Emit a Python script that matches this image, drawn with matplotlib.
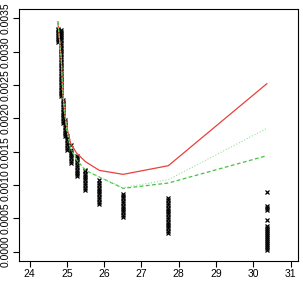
import numpy as np
import matplotlib
matplotlib.use("Agg")
import matplotlib.pyplot as plt

plt.rcParams['font.family'] = ['Liberation Sans', 'DejaVu Sans']

# x positions of the point columns
col_x = [24.76, 24.85, 24.89, 24.94, 25.00, 25.10, 25.26, 25.50, 25.87, 26.51, 27.72, 30.36]
# y values in each column
col_y = [
    [0.00314, 0.00317, 0.00320, 0.00323, 0.00326, 0.00329, 0.00332, 0.00334],
    [0.00233, 0.00236, 0.00240, 0.00243, 0.00247, 0.00250, 0.00254, 0.00257, 0.00261,
     0.00264, 0.00268, 0.00271, 0.00275, 0.00278, 0.00282, 0.00285, 0.00289, 0.00292,
     0.00296, 0.00299, 0.00303, 0.00306, 0.00310, 0.00313, 0.00317, 0.00320, 0.00324,
     0.00327, 0.00330, 0.00333],
    [0.00193, 0.00196, 0.00200, 0.00203, 0.00207, 0.00210, 0.00214, 0.00217, 0.00221,
     0.00224, 0.00228],
    [0.00173, 0.00176, 0.00180, 0.00183, 0.00187, 0.00190, 0.00194, 0.00198],
    [0.00153, 0.00156, 0.00160, 0.00163, 0.00167, 0.00170, 0.00174],
    [0.00133, 0.00136, 0.00140, 0.00143, 0.00147, 0.00150, 0.00153, 0.00160],
    [0.00113, 0.00116, 0.00120, 0.00123, 0.00127, 0.00130, 0.00134, 0.00137, 0.00141,
     0.00143],
    [0.00093, 0.00096, 0.00100, 0.00103, 0.00107, 0.00110, 0.00114, 0.00117, 0.00121,
     0.00123],
    [0.00072, 0.00075, 0.00079, 0.00082, 0.00086, 0.00089, 0.00093, 0.00096, 0.00100,
     0.00103, 0.00107],
    [0.00052, 0.00055, 0.00059, 0.00062, 0.00066, 0.00069, 0.00073, 0.00076, 0.00080,
     0.00083, 0.00086],
    [0.00028, 0.00031, 0.00035, 0.00038, 0.00042, 0.00045, 0.00049, 0.00052, 0.00056,
     0.00059, 0.00063, 0.00066, 0.00070, 0.00073, 0.00077, 0.00080],
    [0.00003, 0.00006, 0.00009, 0.00012, 0.00015, 0.00018, 0.00021, 0.00024, 0.00027,
     0.00030, 0.00033, 0.00036, 0.00038, 0.00048, 0.00062, 0.00065, 0.00068, 0.00089],
]

# fitted curves
red_y = [0.00345, 0.0029, 0.0024, 0.0021, 0.00187, 0.00163, 0.00148, 0.00135,
         0.00122, 0.00116, 0.00129, 0.00252]
dash_y = [0.00345, 0.0029, 0.0024, 0.0021, 0.00183, 0.00155, 0.00138, 0.00122,
          0.00112, 0.00095, 0.00103, 0.00144]
dot_y = [0.00345, 0.0029, 0.0024, 0.0021, 0.00183, 0.00155, 0.00138, 0.00122,
         0.00112, 0.00096, 0.00108, 0.00185]

fig = plt.figure(figsize=(3.03, 2.84), dpi=100)
ax = fig.add_axes([0.063, 0.081, 0.921, 0.887])

for x, ys in zip(col_x, col_y):
    ax.plot([x] * len(ys), ys, 'x', color='black', ms=3.1, mew=0.9)

ax.plot(col_x, red_y, '-', color='#e8413c', lw=0.9)
ax.plot(col_x, dash_y, '--', color='#44c244', lw=0.9, dashes=(3, 2))
ax.plot(col_x, dot_y, ':', color='#9adf9a', lw=0.8)

ax.set_xlim(23.72, 31.2)
ax.set_ylim(-0.00014, 0.00364)
ax.set_xticks(range(24, 32))
ax.set_yticks(np.arange(0, 0.0036, 0.0005))
ax.set_yticklabels(['%.4f' % v for v in np.arange(0, 0.0036, 0.0005)],
                   rotation=90, va='center')
ax.tick_params(direction='out', length=4, width=0.8, labelsize=7.5, pad=2)
for s in ax.spines.values():
    s.set_linewidth(0.8)

fig.savefig('out.png', dpi=100)
